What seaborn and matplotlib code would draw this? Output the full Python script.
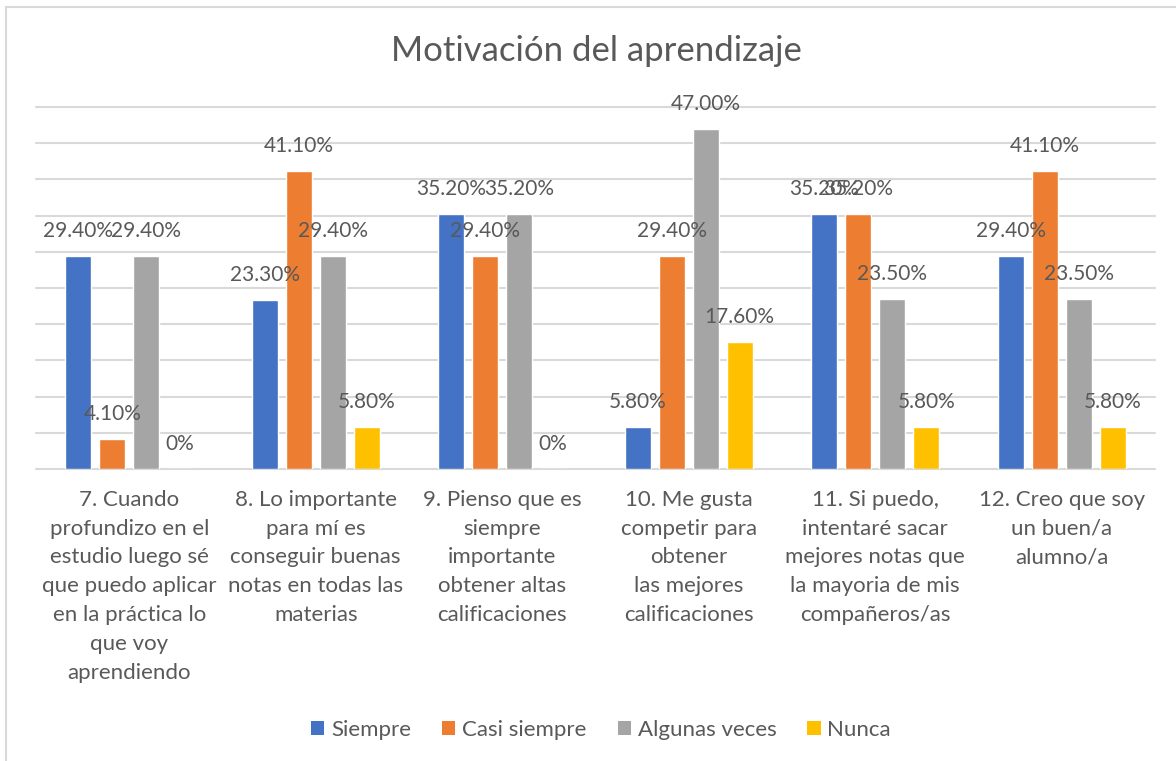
import matplotlib
matplotlib.use("Agg")
import matplotlib.pyplot as plt
from matplotlib.patches import Rectangle, Patch
import pandas as pd
import seaborn as sns

categories = [
    "7. Cuando\nprofundizo en el\nestudio luego sé\nque puedo aplicar\nen la práctica lo\nque voy\naprendiendo",
    "8. Lo importante\npara mí es\nconseguir buenas\nnotas en todas las\nmaterias",
    "9. Pienso que es\nsiempre\nimportante\nobtener altas\ncalificaciones",
    "10. Me gusta\ncompetir para\nobtener\nlas mejores\ncalificaciones",
    "11. Si puedo,\nintentaré sacar\nmejores notas que\nla mayoria de mis\ncompañeros/as",
    "12. Creo que soy\nun buen/a\nalumno/a",
]
series = ["Siempre", "Casi siempre", "Algunas veces", "Nunca"]
siempre = [29.4, 23.3, 35.2, 5.8, 35.2, 29.4]
casi_siempre = [4.1, 41.1, 29.4, 29.4, 35.2, 41.1]
algunas_veces = [29.4, 29.4, 35.2, 47.0, 23.5, 23.5]
nunca = [0.0, 5.8, 0.0, 17.6, 5.8, 5.8]
colors = ["#4472C4", "#ED7D31", "#A5A5A5", "#FFC000"]

values = [siempre, casi_siempre, algunas_veces, nunca]
df = pd.DataFrame(
    [(c, s, v) for s, vals in zip(series, values) for c, v in zip(categories, vals)],
    columns=["pregunta", "respuesta", "porcentaje"],
)

sns.set_theme(style="white")
plt.rcParams["font.family"] = ["Lato", "DejaVu Sans"]
text_color = "#595959"
grid_color = "#D9D9D9"

fig = plt.figure(figsize=(11.76, 7.61), dpi=100)
ax = fig.add_axes([36 / 1176, 1 - 469 / 761, (1155 - 36) / 1176, (469 - 107) / 761])

sns.barplot(
    data=df, x="pregunta", y="porcentaje", hue="respuesta",
    order=categories, hue_order=series, palette=colors,
    width=0.729, gap=0.227, saturation=1, legend=False, ax=ax,
)

ax.set_ylim(0, 50)
ax.set_xlim(-0.5, len(categories) - 0.5)
ax.set_yticks(range(0, 51, 5))
ax.set_yticklabels([])
ax.tick_params(axis="y", length=0)
ax.tick_params(axis="x", length=0, pad=15, labelsize=16, labelcolor=text_color)
for lbl in ax.get_xticklabels():
    lbl.set_linespacing(1.55)
for y in range(5, 51, 5):
    ax.axhline(y, color=grid_color, lw=1.5, zorder=0, clip_on=False)
ax.axhline(0, color=grid_color, lw=1.5, zorder=0.5, clip_on=False)
for side in ["top", "right", "left", "bottom"]:
    ax.spines[side].set_visible(False)
ax.set_xlabel("")
ax.set_ylabel("")

# value labels above each bar
for container in ax.containers:
    for bar in container:
        h = bar.get_height()
        txt = f"{h:.2f}%" if h else "0%"
        ax.annotate(
            txt, (bar.get_x() + bar.get_width() / 2, h),
            xytext=(0, 18), textcoords="offset points",
            ha="center", va="center", fontsize=15, color=text_color,
        )

fig.text(596 / 1176, 1 - 51 / 761, "Motivación del aprendizaje",
         ha="center", va="center", fontsize=25, color=text_color)

handles = [Patch(facecolor=c, edgecolor="none") for c in colors]
fig.legend(
    handles, series, loc="center", bbox_to_anchor=(601 / 1176, 1 - 730 / 761),
    ncol=4, frameon=False, fontsize=16, labelcolor=text_color,
    handlelength=0.6, handleheight=0.6, handletextpad=0.3, columnspacing=1.4,
)

# chart border
fig.patches.append(Rectangle((6 / 1176, -0.05), 1.2, 1 - 7 / 761 + 0.05,
                             transform=fig.transFigure, fill=False,
                             edgecolor=grid_color, lw=1.5, zorder=-1))

fig.savefig("out.png", dpi=100)
